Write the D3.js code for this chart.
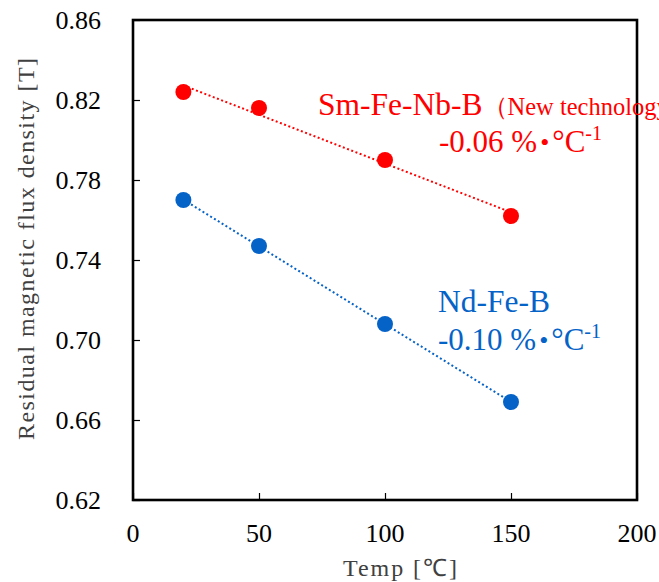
<!DOCTYPE html>
<html>
<head>
<meta charset="utf-8">
<script src="https://cdn.jsdelivr.net/npm/d3@7"></script>
<style>
  body { margin: 0; background: #fff; }
  svg { display: block; }
</style>
</head>
<body>
<div id="chart"></div>
<script>
// Chart data
var temps = [20, 50, 100, 150];
var smFeNbB = [0.824, 0.816, 0.790, 0.762];
var ndFeB = [0.770, 0.747, 0.708, 0.669];
var xTicks = [0, 50, 100, 150, 200];
var yTicks = [0.62, 0.66, 0.70, 0.74, 0.78, 0.82, 0.86];

var width = 659, height = 582;
var plotLeft = 133, plotRight = 637, plotTop = 20, plotBottom = 500;

var svg = d3.select('#chart').append('svg')
    .attr('width', width).attr('height', height);

var x = d3.scaleLinear().domain([0, 200]).range([plotLeft, plotRight]);
var y = d3.scaleLinear().domain([0.62, 0.86]).range([plotBottom, plotTop]);

var series = [
    {name: 'Sm-Fe-Nb-B', values: smFeNbB, color: '#ff0000'},
    {name: 'Nd-Fe-B', values: ndFeB, color: '#0563c8'}
];

// least squares fit, drawn over the measured range
function fit(xs, ys) {
    var mx = d3.mean(xs), my = d3.mean(ys);
    var sxy = d3.sum(xs, function(v, i) {return (v - mx) * (ys[i] - my);});
    var sxx = d3.sum(xs, function(v) {return (v - mx) * (v - mx);});
    var b = sxy / sxx;
    return function(v) {return my + b * (v - mx);};
}

// Axes (ticks inward, labels drawn separately)
var xAxis = d3.axisBottom(x).tickValues(xTicks).tickSize(-7).tickFormat('');
var yAxis = d3.axisLeft(y).tickValues(yTicks).tickSize(-7).tickFormat('');

svg.append('g').attr('transform', 'translate(0,' + plotBottom + ')').call(xAxis)
    .call(function(g) {g.select('.domain').remove();})
    .selectAll('line').attr('stroke', '#000').attr('stroke-width', 1.2);
svg.append('g').attr('transform', 'translate(' + plotLeft + ',0)').call(yAxis)
    .call(function(g) {g.select('.domain').remove();})
    .selectAll('line').attr('stroke', '#000').attr('stroke-width', 1.2);

// plot frame
svg.append('rect')
    .attr('x', plotLeft).attr('y', plotTop)
    .attr('width', plotRight - plotLeft).attr('height', plotBottom - plotTop)
    .attr('fill', 'none').attr('stroke', '#000').attr('stroke-width', 2.6);

// tick labels
svg.append('g').selectAll('text').data(xTicks).enter().append('text')
    .attr('x', function(d) {return x(d);})
    .attr('y', 542)
    .attr('text-anchor', 'middle')
    .style('font-family', 'Liberation Serif, serif')
    .style('font-size', '26px')
    .text(function(d) {return d;});

svg.append('g').selectAll('text').data(yTicks).enter().append('text')
    .attr('x', 101)
    .attr('y', function(d) {return y(d) + 9;})
    .attr('text-anchor', 'end')
    .style('font-family', 'Liberation Serif, serif')
    .style('font-size', '26px')
    .text(function(d) {return d.toFixed(2);});

// axis titles
svg.append('text')
    .attr('x', 400).attr('y', 576)
    .attr('text-anchor', 'middle')
    .attr('fill', '#404040')
    .attr('textLength', 114).attr('lengthAdjust', 'spacing')
    .style('font-family', 'Liberation Serif, serif')
    .style('font-size', '24px')
    .text('Temp [\u2103]');

svg.append('text')
    .attr('transform', 'translate(34,249) rotate(-90)')
    .attr('text-anchor', 'middle')
    .attr('fill', '#404040')
    .attr('textLength', 382).attr('lengthAdjust', 'spacing')
    .style('font-family', 'Liberation Serif, serif')
    .style('font-size', '24px')
    .text('Residual magnetic flux density [T]');

// trend lines and points
series.forEach(function(s) {
    var f = fit(temps, s.values);
    var ends = [d3.min(temps), d3.max(temps)];
    svg.append('line')
        .attr('x1', x(ends[0])).attr('y1', y(f(ends[0])))
        .attr('x2', x(ends[1])).attr('y2', y(f(ends[1])))
        .attr('stroke', s.color)
        .attr('stroke-width', 2)
        .attr('stroke-dasharray', '2,2.5');

    svg.append('g').selectAll('circle').data(s.values).enter().append('circle')
        .attr('cx', function(d, i) {return x(temps[i]);})
        .attr('cy', function(d) {return y(d);})
        .attr('r', 8)
        .attr('fill', s.color);
});

// annotations
var ann = svg.append('g').style('font-family', 'Liberation Serif, serif');

function slope(g, xPos, yPos, label, color) {
    var t = g.append('text').attr('x', xPos).attr('y', yPos).attr('fill', color)
        .style('font-size', '31px');
    t.append('tspan').text(label);
    t.append('tspan').attr('dx', 3).style('font-size', '26px').attr('dy', -1).text('\u2022');
    t.append('tspan').attr('dx', 3).attr('dy', 1).text('\u00b0C');
    t.append('tspan').attr('dy', -12).style('font-size', '20px').text('-1');
}

// the long label runs past the right edge, as in the source figure
var t1 = ann.append('text').attr('x', 318).attr('y', 115).attr('fill', '#ff0000')
    .style('font-size', '31.5px');
t1.append('tspan').text('Sm-Fe-Nb-B');
t1.append('tspan').style('font-size', '24.5px').text('\uff08New technology\uff09');
slope(ann, 439, 152, '-0.06 %', '#ff0000');

ann.append('text').attr('x', 438).attr('y', 312).attr('fill', '#0563c8')
    .style('font-size', '31.5px').text('Nd-Fe-B');
slope(ann, 438, 350, '-0.10 %', '#0563c8');
</script>
</body>
</html>
